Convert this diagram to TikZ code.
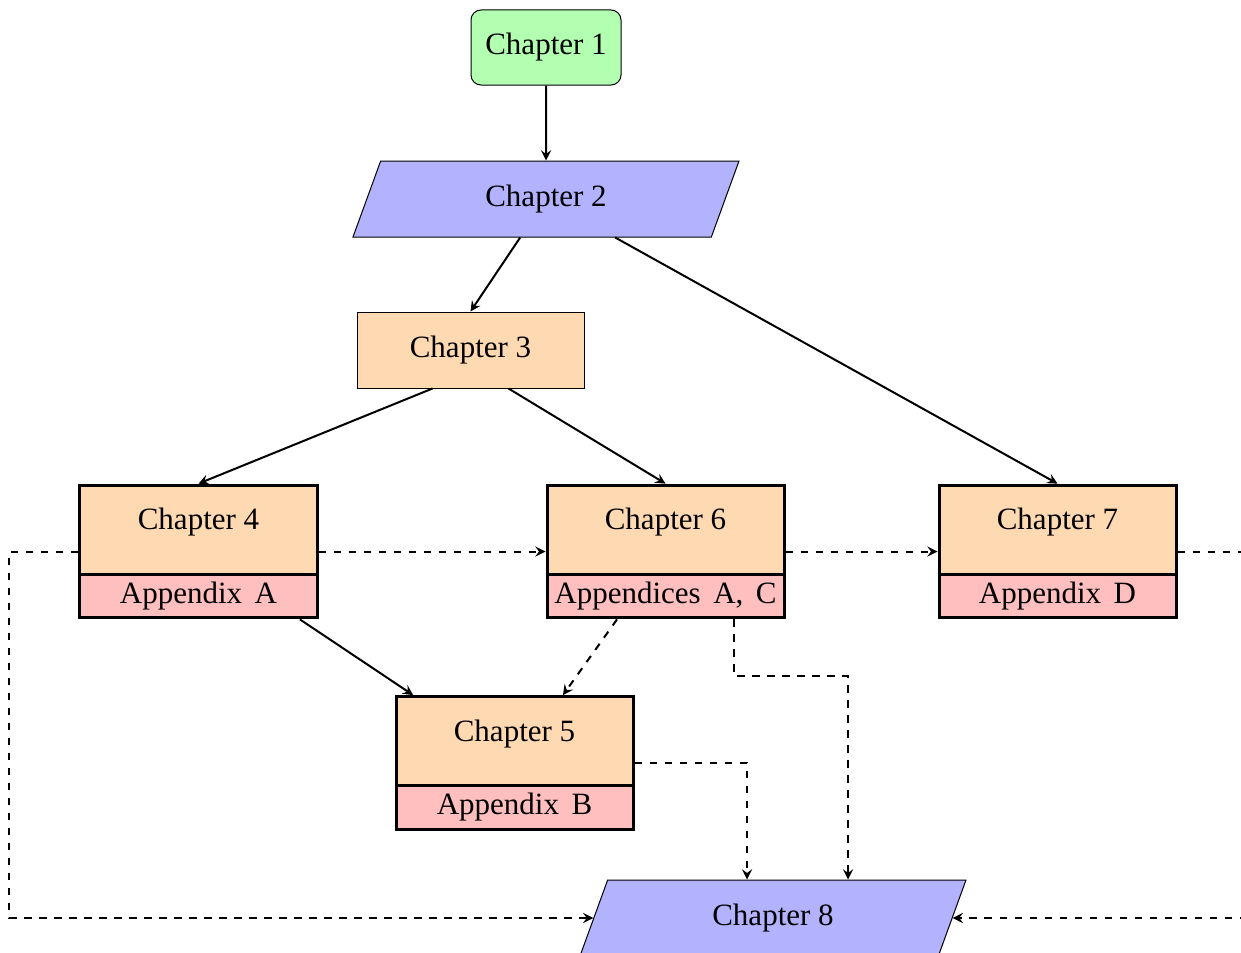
\documentclass[tikz,border=0pt]{standalone}
\usepackage{fontspec}
\setmainfont{Liberation Serif}
\usetikzlibrary{shapes.geometric,shapes.multipart,calc,arrows}
\begin{document}
\begin{tikzpicture}[x=0.4pt,y=-0.4pt,
  font=\fontsize{12.4}{15}\selectfont,
  conn/.style={thick,-stealth},
  dconn/.style={thick,dashed,-stealth},
  startbox/.style={draw,rounded corners=4pt,fill=green!30,minimum width=60pt,minimum height=30pt},
  parabox/.style={draw,fill=blue!30,trapezium,trapezium left angle=70,trapezium right angle=110,trapezium stretches body=true,
    text height=8.5pt,text depth=2.7pt,inner ysep=9.6pt,minimum width=154.4pt},
  plainbox/.style={draw,fill=orange!30,minimum width=90.8pt,minimum height=30.4pt},
  splitbox/.style={rectangle split,rectangle split parts=2,draw,very thick,
    rectangle split part fill={orange!30,red!25},minimum width=94.8pt,inner xsep=1.5pt,inner ysep=2.53pt}
]
\useasboundingbox (0,0) rectangle (1241,953);
\clip (0,0) rectangle (1241,953);

\node[startbox] (ch1) at (546,47.5) {Chapter 1};
\node[parabox] (ch2) at (546,199) {Chapter 2};
\node[plainbox] (ch3) at (470.5,350) {Chapter 3};
\node[splitbox] (ch4) at (198.5,551.5) {\rule[-14.67pt]{0pt}{29.33pt}Chapter 4\nodepart{two}\spaceskip=5pt\relax Appendix A};
\node[splitbox] (ch6) at (665.5,551.5) {\rule[-14.67pt]{0pt}{29.33pt}Chapter 6\nodepart{two}\spaceskip=5pt\relax Appendices A, C};
\node[splitbox] (ch7) at (1057.5,551.5) {\rule[-14.67pt]{0pt}{29.33pt}Chapter 7\nodepart{two}\spaceskip=5pt\relax Appendix D};
\node[splitbox] (ch5) at (514.5,763) {\rule[-14.67pt]{0pt}{29.33pt}Chapter 5\nodepart{two}\spaceskip=5pt\relax Appendix B};
\node[parabox] (ch8) at (773,918) {Chapter 8};

\coordinate (k5) at (747,0);
\coordinate (k6) at (734,676);
\coordinate (k6b) at (848,676);

\draw[conn] (ch1) -- (ch2);
\draw[conn] (ch2) -- (ch3.north);
\draw[conn] (ch2) -- (ch7.north);
\draw[conn] ($(ch3.south west)!1/3!(ch3.south east)$) -- (ch4.north);
\draw[conn] ($(ch3.south west)!2/3!(ch3.south east)$) -- (ch6.north);
\draw[conn] (ch4) -- (ch5);
\draw[dconn] (ch6) -- (ch5);
\draw[dconn] (ch4) -- (ch6);
\draw[dconn] (ch6) -- (ch7);
\draw[dconn] (ch4.west) -- ++(-69,0) |- (ch8.west);
\draw[dconn] (ch7.east) -- ++(69,0) |- (ch8.east);
\draw[dconn] (ch5.east) -| (ch8.north -| k5);
\draw[dconn] (ch6.south -| k6) -- (k6) -- (k6b) -- (ch8.north -| k6b);
\end{tikzpicture}
\end{document}
